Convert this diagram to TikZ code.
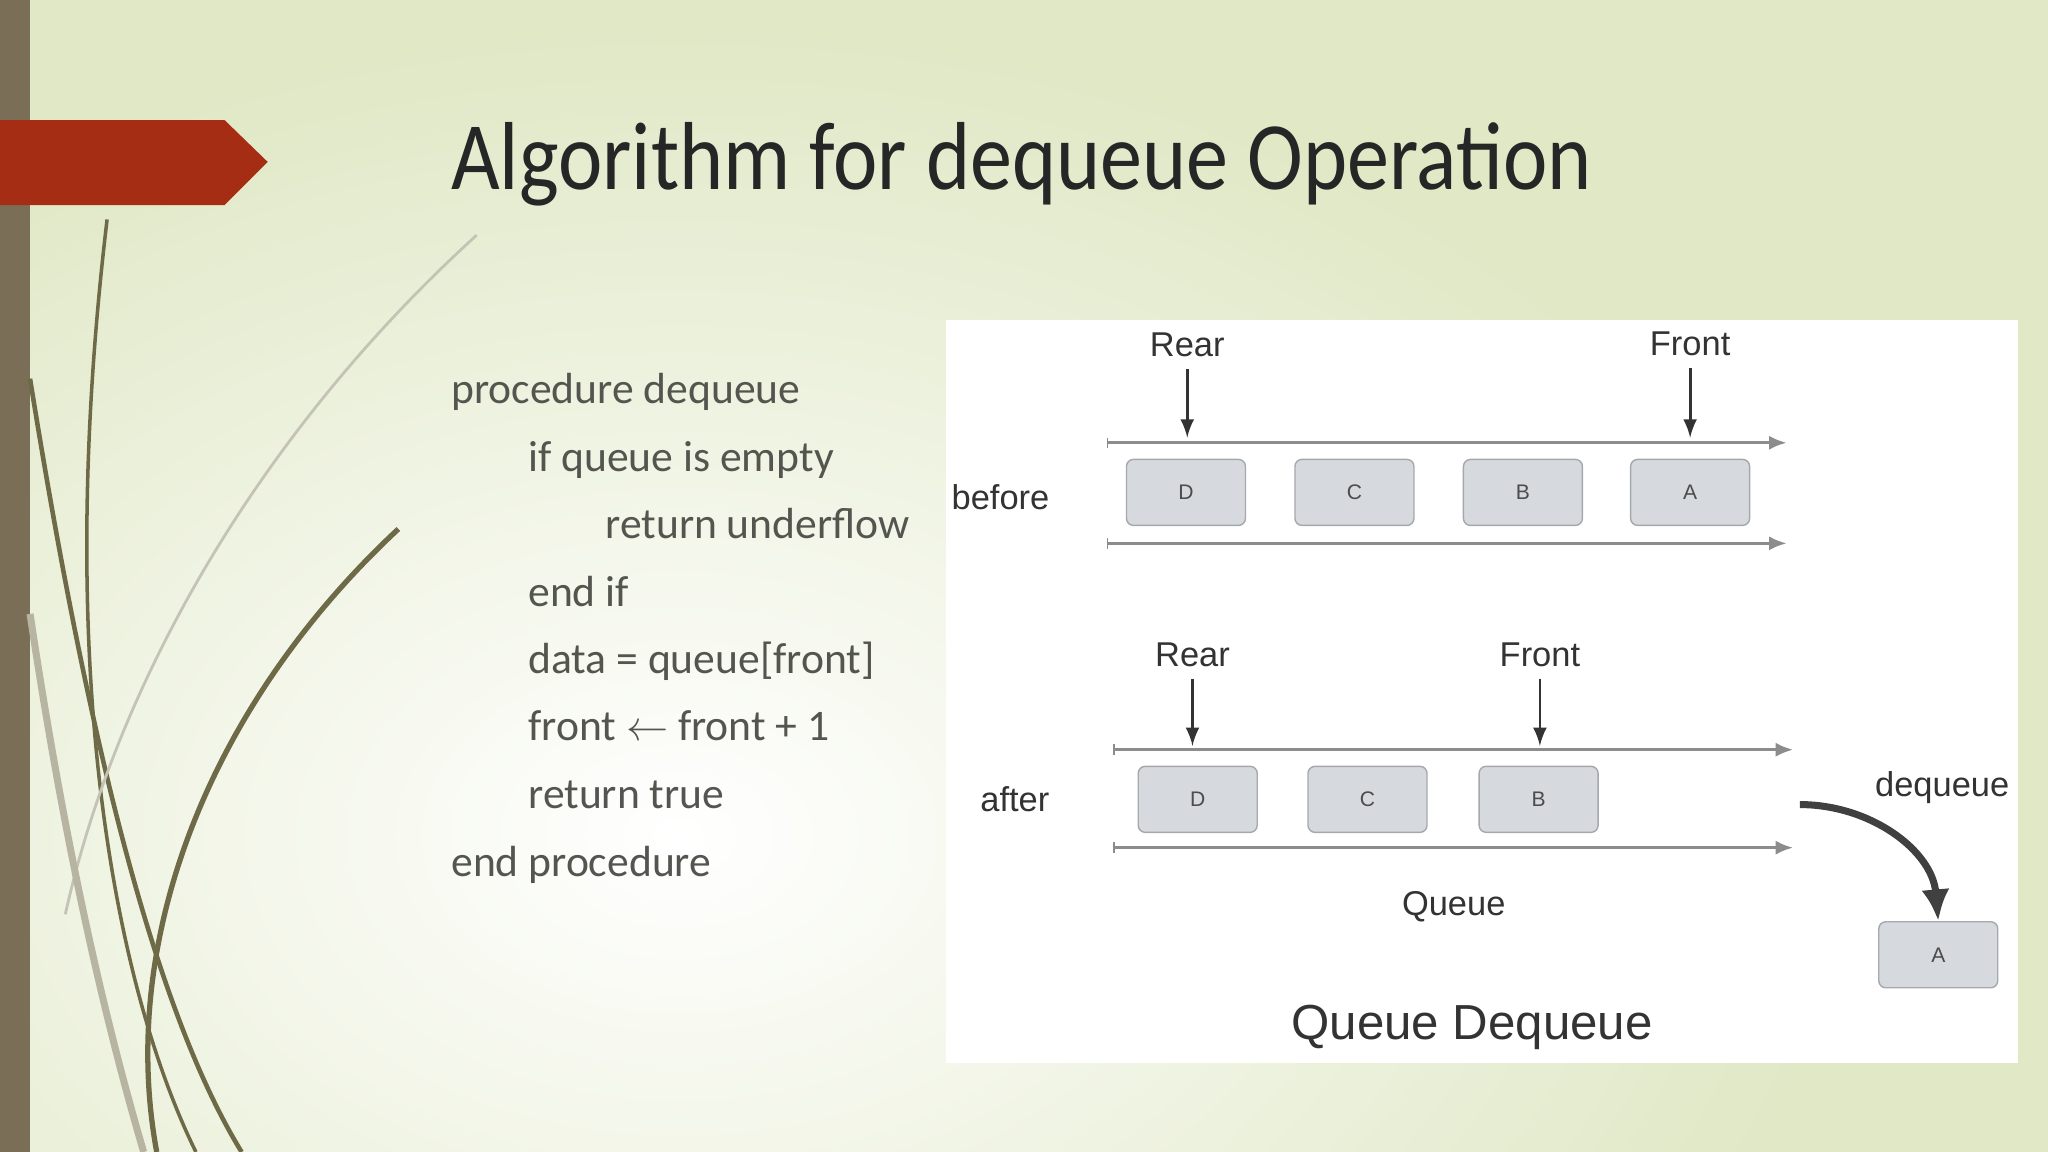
\documentclass[tikz,border=0pt]{standalone}
\usepackage{fontspec}
\setmainfont{Carlito}
\newfontfamily\arialfont{Liberation Sans}
\usetikzlibrary{arrows.meta,positioning,calc}
\definecolor{bgcol}{RGB}{224,232,198}
\definecolor{barcol}{RGB}{122,110,86}
\definecolor{tagred}{RGB}{165,45,20}
\definecolor{curvecol}{RGB}{110,105,70}
\definecolor{codecol}{RGB}{85,85,80}
\definecolor{cellfill}{RGB}{214,217,221}
\definecolor{celldraw}{RGB}{165,168,172}
\definecolor{linecol}{RGB}{140,140,140}
\tikzstyle{cell} = [draw=celldraw, fill=cellfill, rounded corners=2pt, minimum width=1.19cm, minimum height=0.66cm, font=\arialfont\fontsize{6}{7}\selectfont, text=black!70]
\tikzstyle{lbl} = [font=\arialfont\fontsize{9.8}{12}\selectfont, text=black!80]
\tikzstyle{codeline} = [anchor=base west, font=\fontsize{12.4}{16}\selectfont, text=codecol, inner sep=0pt]
\tikzstyle{track} = [draw=linecol, line width=0.9pt, -{Latex[length=5pt,width=4pt]}]
\tikzstyle{ptr} = [->, >=latex, line width=0.8pt, black!80]

\begin{document}
\begin{tikzpicture}[x=0.013061cm, y=-0.013061cm]
    \useasboundingbox (0,0) rectangle (1568,882);
    % background
    \begin{scope}
        \clip (0,0) rectangle (1568,882);
        \fill[bgcol] (0,0) rectangle (1568,882);
        \shade[inner color=white, outer color=bgcol] (520,640) ellipse (900 and 620);
    \end{scope}
    \fill[barcol] (0,0) rectangle (23,882);
    \fill[tagred] (0,92) -- (172,92) -- (205,124) -- (172,157) -- (0,157) -- cycle;

    % decorative curves
    \draw[curvecol, line width=1pt] (82,168) .. controls (40,520) and (90,760) .. (150,882);
    \draw[curvecol, line width=1.3pt] (23,290) .. controls (60,520) and (110,760) .. (185,882);
    \draw[curvecol, line width=1.5pt] (305,405) .. controls (160,540) and (90,720) .. (120,882);
    \draw[curvecol!40, line width=0.8pt] (365,180) .. controls (200,330) and (90,520) .. (50,700);
    \draw[curvecol!50, line width=2pt] (23,470) .. controls (50,650) and (80,780) .. (110,882);

    % title
    \node[anchor=base west, inner sep=0pt, xscale=0.87, font=\fontsize{27.5}{32}\selectfont, text=black!85] (Title) at (345,145) {Algorithm for dequeue Operation};

    % algorithm text
    \node[codeline] (L1) at (345,309) {procedure dequeue};
    \node[codeline] (L2) at (404,361) {if queue is empty};
    \node[codeline] (L3) at (463,412) {return underflow};
    \node[codeline] (L4) at (404,464) {end if};
    \node[codeline] (L5) at (404,516) {data = queue[front]};
    \node[codeline] (L6) at (404,567) {front $\leftarrow$ front + 1};
    \node[codeline] (L7) at (404,619) {return true};
    \node[codeline] (L8) at (345,671) {end procedure};

    % diagram panel
    \fill[white] (724,245) rectangle (1545,814);

    % before
    \coordinate (BTopL) at (848,339);
    \coordinate (BTopR) at (1368,339);
    \coordinate (BBotL) at (848,416);
    \coordinate (BBotR) at (1368,416);
    \path[track] (BTopL) -- (BTopR);
    \path[track] (BBotL) -- (BBotR);
    \draw[linecol] ($(BTopL)+(0,-4)$) -- ($(BTopL)+(0,4)$);
    \draw[linecol] ($(BBotL)+(0,-4)$) -- ($(BBotL)+(0,4)$);
    \node[cell] (BD) at (908,377) {D};
    \node[cell] (BC) at (1037,377) {C};
    \node[cell] (BB) at (1166,377) {B};
    \node[cell] (BA) at (1294,377) {A};
    \node[lbl] (Before) at (766,381) {before};
    \node[lbl] (BRear) at (909,264) {Rear};
    \node[lbl] (BFront) at (1294,263) {Front};
    \draw[ptr] (BRear.south) -- (BRear |- 0,335);
    \draw[ptr] (BFront.south) -- (BFront |- 0,335);

    % after
    \coordinate (ATopL) at (853,574);
    \coordinate (ATopR) at (1373,574);
    \coordinate (ABotL) at (853,649);
    \coordinate (ABotR) at (1373,649);
    \path[track] (ATopL) -- (ATopR);
    \path[track] (ABotL) -- (ABotR);
    \draw[linecol] ($(ATopL)+(0,-4)$) -- ($(ATopL)+(0,4)$);
    \draw[linecol] ($(ABotL)+(0,-4)$) -- ($(ABotL)+(0,4)$);
    \node[cell] (AD) at (917,612) {D};
    \node[cell] (AC) at (1047,612) {C};
    \node[cell] (AB) at (1178,612) {B};
    \node[cell] (AA) at (1484,731) {A};
    \node[lbl] (After) at (777,612) {after};
    \node[lbl] (ARear) at (913,501) {Rear};
    \node[lbl] (AFront) at (1179,501) {Front};
    \draw[ptr] (ARear.south) -- (ARear |- 0,571);
    \draw[ptr] (AFront.south) -- (AFront |- 0,571);
    \node[lbl] (Deq) at (1487,603) {dequeue};
    \coordinate (DeqStart) at (1378,616);
    \draw[-{Latex[length=9pt,width=8pt]}, line width=2pt, black!75] (DeqStart) to[out=0, in=95] (AA.north);
    \node[lbl] (QueueLbl) at (1113,694) {Queue};
    \node[font=\arialfont\fontsize{14}{17}\selectfont, text=black!80] (Caption) at (1127,787) {Queue Dequeue};
\end{tikzpicture}
\end{document}
